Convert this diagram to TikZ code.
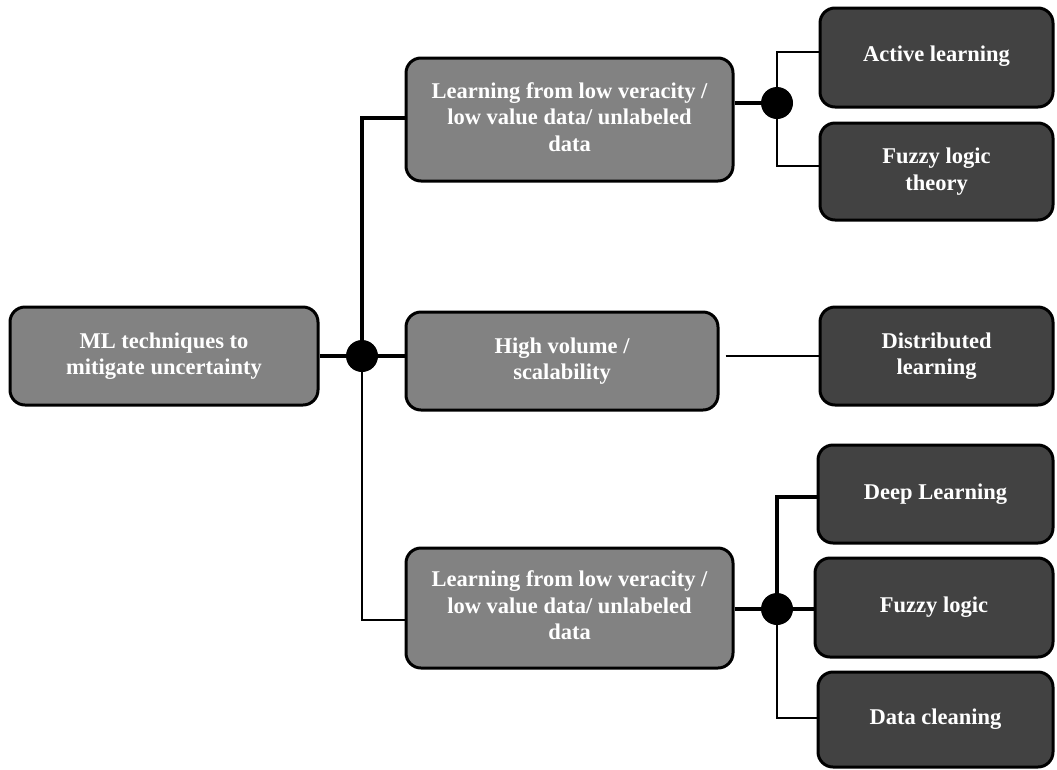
\documentclass[tikz,border=0pt]{standalone}
\usepackage{fontspec}
\setmainfont{Liberation Serif}
\newcommand{\lines}[1]{\begin{tabular}{@{}c@{}}#1\end{tabular}}
\begin{document}
\begin{tikzpicture}[x=1pt,y=-1pt,
  box/.style={draw=black, line width=3pt, rounded corners=15pt, align=center,
    text=white, font=\fontsize{22.5}{26.5}\selectfont\bfseries, inner sep=0pt},
  midbox/.style={box, fill=gray!98!white},
  leafbox/.style={box, fill=black!74},
  thickline/.style={line width=3.6pt},
  thinline/.style={line width=2.4pt},
  dot/.style={circle, fill=black, minimum size=32pt, inner sep=0pt}]
\useasboundingbox (0,0) rectangle (1057,769);

% boxes
\node[midbox, minimum width=308pt, minimum height=98pt] (root) at (164,356)
  {ML techniques to\\mitigate uncertainty};
\node[midbox, minimum width=327pt, minimum height=123pt] (mid1) at (569.5,119.5)
  {\raisebox{8pt}{\lines{Learning from low veracity /\\low value data/ unlabeled\\data}}};
\node[midbox, minimum width=312pt, minimum height=98pt] (mid2) at (562,361)
  {\raisebox{4pt}{\lines{High volume /\\scalability}}};
\node[midbox, minimum width=327pt, minimum height=120pt] (mid3) at (569.5,608)
  {\raisebox{3pt}{\lines{Learning from low veracity /\\low value data/ unlabeled\\data}}};

\node[leafbox, minimum width=233pt, minimum height=99pt] (al) at (936.5,57.5)
  {\raisebox{8pt}{Active learning}};
\node[leafbox, minimum width=233pt, minimum height=97pt] (flt) at (936.5,171.5)
  {\raisebox{-2pt}{\lines{Fuzzy logic\\theory}}};
\node[leafbox, minimum width=233pt, minimum height=98pt] (dl) at (936.5,356)
  {Distributed\\learning};
\node[leafbox, minimum width=235pt, minimum height=98pt] (deep) at (935.5,494)
  {Deep Learning};
\node[leafbox, minimum width=238pt, minimum height=99pt] (fl) at (934,607.5)
  {Fuzzy logic};
\node[leafbox, minimum width=235pt, minimum height=95pt] (dc) at (935.5,719.5)
  {Data cleaning};

% junctions
\coordinate (j1) at (362,356);
\coordinate (j2) at (777,103);
\coordinate (j3) at (777,609);

% root branches
\draw[thickline] (root.east |- j1) -- (j1) -- (j1 -| mid2.west);
\draw[thickline] (j1) |- ([yshift=1.5pt]mid1.west);
\draw[thinline] (j1) |- ([yshift=-12pt]mid3.west);

% first group
\draw[thickline] (j2 -| mid1.east) -- (j2);
\draw[thinline] (j2) |- ([yshift=5.5pt]al.west);
\draw[thinline] (j2) |- ([yshift=5.5pt]flt.west);

% middle
\draw[thinline] ([xshift=6pt]dl.west -| mid2.east) -- (dl.west);

% last group
\draw[thickline] (j3 -| mid3.east) -- (j3) -- (j3 -| fl.west);
\draw[thickline] (j3) |- ([yshift=-3pt]deep.west);
\draw[thinline] (j3) |- ([yshift=1.5pt]dc.west);

\node[dot] (d1) at (j1) {};
\node[dot] (d2) at (j2) {};
\node[dot] (d3) at (j3) {};
\end{tikzpicture}
\end{document}
